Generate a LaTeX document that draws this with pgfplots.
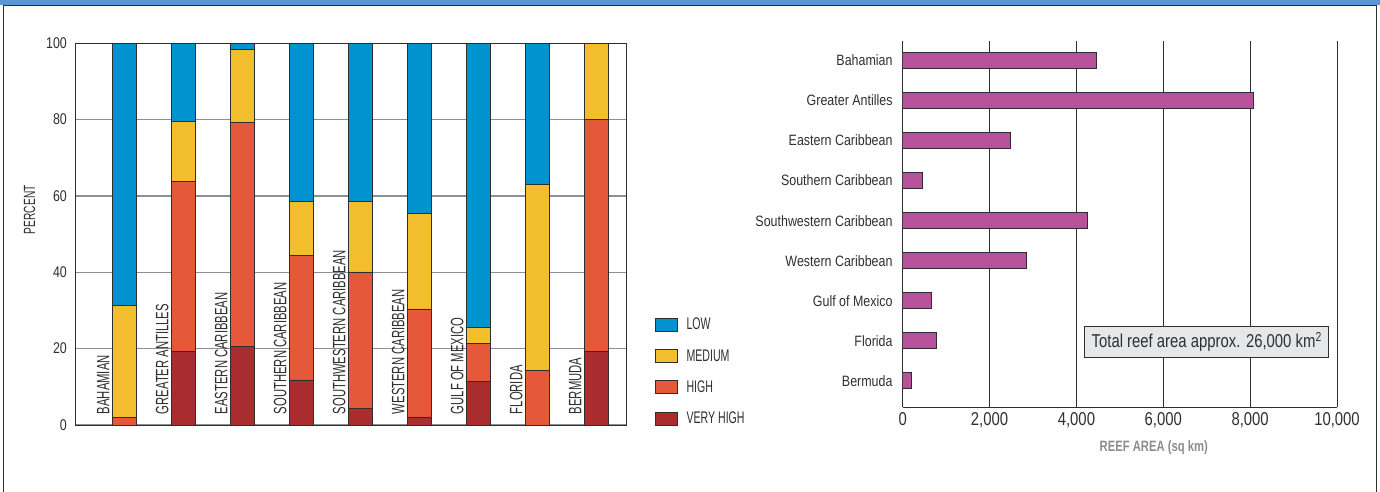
\documentclass[border=0pt]{standalone}
\usepackage{fontspec}
\setmainfont{Liberation Sans}
\newfontfamily\fcaps[FakeStretch=0.63]{Liberation Sans}
\newfontfamily\fnum[FakeStretch=0.8]{Liberation Sans}
\newfontfamily\fmix[FakeStretch=0.83]{Liberation Sans}
\newfontfamily\flab[FakeStretch=0.75]{Liberation Sans}
\usepackage{pgfplots}
\pgfplotsset{compat=1.18}
\definecolor{clow}{HTML}{0093D0}
\definecolor{cmed}{HTML}{F3BE2D}
\definecolor{chigh}{HTML}{E5583A}
\definecolor{cvh}{HTML}{A92D2F}
\definecolor{cmag}{HTML}{B9509A}
\definecolor{hdr}{HTML}{5A97D3}
\definecolor{txt}{HTML}{2F2F2F}
\definecolor{gridg}{HTML}{8B9096}
\definecolor{dk}{HTML}{2E2E2E}
\definecolor{annot}{HTML}{E6E7E8}
\definecolor{labg}{HTML}{8C8C8C}
\tikzset{catlab/.style={rotate=90, anchor=west, inner sep=0pt, font=\fcaps\fontsize{17.9}{18}\selectfont, text=txt}}
\pgfplotsset{
  sqlegend/.style={legend image code/.code={\draw[##1, draw=dk, line width=0.9pt] (0pt,-6.5pt) rectangle (22pt,6.5pt);}},
}
\begin{document}
\begin{tikzpicture}
\useasboundingbox (0pt,0pt) rectangle (1380pt,491pt);
\fill[hdr] (0pt,485.5pt) rectangle (1380pt,491pt);
\draw[dk, line width=1.5pt] (3.5pt,-2pt) -- (3.5pt,485.3pt) -- (1376.7pt,485.3pt) -- (1376.7pt,-2pt);

% ---------- left: stacked percent bars ----------
\begin{axis}[at={(75pt,66pt)}, anchor=south west, scale only axis,
  width=551pt, height=381.7pt,
  ybar stacked, bar width=24pt,
  xmin=-0.842, xmax=8.497, ymin=0, ymax=100,
  xtick=\empty, ytick={0,20,40,60,80,100},
  ymajorgrids, grid style={gridg, line width=1.2pt},
  major tick length=0pt,
  axis line style={dk, line width=1pt},
  /pgf/number format/assume math mode=true,
  yticklabel style={font=\fnum\fontsize{15.5}{15}\selectfont, text=txt, inner sep=0pt, xshift=-8pt},
  ylabel={PERCENT},
  ylabel style={font=\fcaps\fontsize{16.2}{16}\selectfont, text=txt, at={(axis description cs:-0.0826,0.564)}, anchor=center},
  reverse legend, legend cell align=left,
  legend style={draw=none, fill=none, at={(1.0526,0.2856)}, anchor=north west,
    font=\fcaps\fontsize{16.8}{17}\selectfont, text=txt, row sep=14.1pt, column sep=6.5pt, inner sep=0pt},
]
\addplot[fill=cvh, draw=dk, line width=0.8pt, sqlegend] coordinates {(0,0) (1,19.4) (2,20.5) (3,11.8) (4,4.4) (5,2.1) (6,11.3) (7,0) (8,19.3)};
\addplot[fill=chigh, draw=dk, line width=0.8pt, sqlegend] coordinates {(0,2.0) (1,44.4) (2,58.8) (3,32.6) (4,35.7) (5,28.3) (6,10.1) (7,14.2) (8,60.7)};
\addplot[fill=cmed, draw=dk, line width=0.8pt, sqlegend] coordinates {(0,29.3) (1,15.8) (2,19.2) (3,14.1) (4,18.4) (5,25.0) (6,4.2) (7,48.9) (8,20.0)};
\addplot[fill=clow, draw=dk, line width=0.8pt, sqlegend] coordinates {(0,68.7) (1,20.4) (2,1.5) (3,41.5) (4,41.5) (5,44.6) (6,74.4) (7,36.9) (8,0)};
\legend{VERY HIGH, HIGH, MEDIUM, LOW}
\node[catlab] at (axis cs:-0.363,2.8) {BAHAMIAN};
\node[catlab] at (axis cs:0.637,2.8) {GREATER ANTILLES};
\node[catlab] at (axis cs:1.637,2.8) {EASTERN CARIBBEAN};
\node[catlab] at (axis cs:2.637,2.8) {SOUTHERN CARIBBEAN};
\node[catlab] at (axis cs:3.637,2.8) {SOUTHWESTERN CARIBBEAN};
\node[catlab] at (axis cs:4.637,2.8) {WESTERN CARIBBEAN};
\node[catlab] at (axis cs:5.637,2.8) {GULF OF MEXICO};
\node[catlab] at (axis cs:6.637,2.8) {FLORIDA};
\node[catlab] at (axis cs:7.637,2.8) {BERMUDA};
\end{axis}

% ---------- right: reef area ----------
\begin{axis}[at={(902.7pt,83.7pt)}, anchor=south west, scale only axis,
  width=434.3pt, height=366.3pt,
  xbar, bar width=15.7pt,
  xmin=0, xmax=10000, ymin=-0.662, ymax=8.487,
  xtick={0,2000,4000,6000,8000,10000}, ytick={0,1,2,3,4,5,6,7,8},
  yticklabels={Bermuda, Florida, Gulf of Mexico, Western Caribbean, Southwestern Caribbean, Southern Caribbean, Eastern Caribbean, Greater Antilles, Bahamian},
  xmajorgrids, grid style={dk, line width=1pt},
  major tick length=0pt,
  axis x line*=bottom, axis y line*=left,
  axis line style={dk, line width=1.2pt, -},
  scaled x ticks=false,
  /pgf/number format/1000 sep={,},
  /pgf/number format/assume math mode=true,
  yticklabel style={font=\fmix\fontsize{15}{15}\selectfont, text=txt, inner sep=0pt, xshift=-10pt},
  xticklabel style={font=\fnum\fontsize{18.6}{18}\selectfont, text=txt, inner sep=0pt, yshift=-5.4pt},
  xlabel={REEF AREA (sq km)},
  xlabel style={font=\flab\bfseries\fontsize{15}{15}\selectfont, text=labg, at={(axis description cs:0.578,-0.111)}, anchor=center},
]
\addplot[fill=cmag, draw=dk, line width=0.9pt] coordinates {(210,0) (780,1) (670,2) (2860,3) (4260,4) (450,5) (2490,6) (8080,7) (4470,8)};
\node[draw=dk, fill=annot, line width=1pt, minimum width=244.4pt, minimum height=31pt, inner sep=0pt, font=\fnum\fontsize{18.6}{18}\selectfont, text=txt] at (axis cs:7000,0.964) {Total reef area approx. 26,000 km\textsuperscript{2}};
\end{axis}
\end{tikzpicture}
\end{document}
